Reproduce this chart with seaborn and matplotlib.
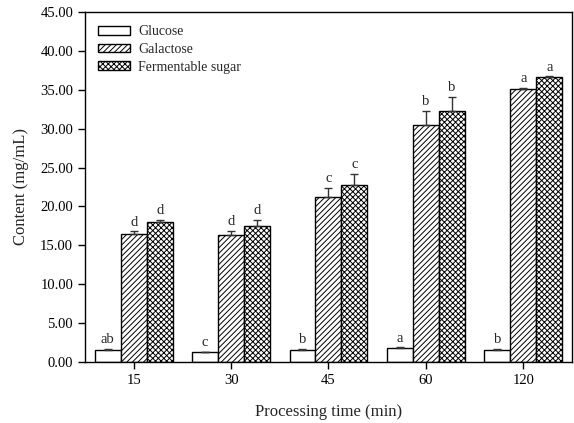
import numpy as np
import pandas as pd
import matplotlib
matplotlib.use("Agg")
import matplotlib.pyplot as plt
import seaborn as sns
from matplotlib.patches import Patch

times = ["15", "30", "45", "60", "120"]
series = ["Glucose", "Galactose", "Fermentable sugar"]
glucose = [1.60, 1.30, 1.55, 1.85, 1.60]
galactose = [16.4, 16.3, 21.2, 30.5, 35.1]
fermentable = [18.0, 17.5, 22.8, 32.3, 36.6]
glucose_err = [0.10, 0.06, 0.15, 0.05, 0.06]
galactose_err = [0.40, 0.60, 1.20, 1.80, 0.15]
fermentable_err = [0.25, 0.80, 1.40, 1.80, 0.10]
glucose_letters = ["ab", "c", "b", "a", "b"]
galactose_letters = ["d", "d", "c", "b", "a"]
fermentable_letters = ["d", "d", "c", "b", "a"]
yticks = [0, 5, 10, 15, 20, 25, 30, 35, 40, 45]

values = [glucose, galactose, fermentable]
errs = [glucose_err, galactose_err, fermentable_err]
letters = [glucose_letters, galactose_letters, fermentable_letters]
hatches = ["", "//////", "xxxxxx"]

rows = []
for s, vals in zip(series, values):
    for t, v in zip(times, vals):
        rows.append({"time": t, "series": s, "value": v})
df = pd.DataFrame(rows)

sns.set_style("ticks")
plt.rcParams["font.family"] = ["Liberation Serif", "DejaVu Serif"]
plt.rcParams["hatch.linewidth"] = 0.7

fig = plt.figure(figsize=(5.74, 4.23), dpi=100)
ax = fig.add_axes([0.148, 0.144, 0.8485, 0.828])

sns.barplot(data=df, x="time", y="value", hue="series", order=times,
            hue_order=series, palette=["white"] * 3, edgecolor="black",
            linewidth=1.0, width=0.8, errorbar=None, legend=False, ax=ax)

for cont, h, vals, er, lets in zip(ax.containers, hatches, values, errs, letters):
    xs = []
    for bar in cont:
        bar.set_hatch(h)
        bar.set_facecolor("white")
        bar.set_edgecolor("black")
        xs.append(bar.get_x() + bar.get_width() / 2)
    ax.errorbar(xs, vals, yerr=[np.zeros(len(vals)), er], fmt="none",
                ecolor="#333333", elinewidth=1.0, capsize=3, capthick=1.0, zorder=3)
    for x, v, e, l in zip(xs, vals, er, lets):
        ax.text(x, v + e + 0.35, l, ha="center", va="bottom", fontsize=10.5)

ax.set_ylim(0, 45)
ax.set_xlim(-0.5, 4.5)
ax.set_yticks(yticks)
ax.set_yticklabels([f"{t:.2f}" for t in yticks])
ax.tick_params(axis="both", direction="out", length=5, width=1, labelsize=10.5, colors="black")
ax.set_xlabel("Processing time (min)", fontsize=12, labelpad=12)
ax.set_ylabel("Content (mg/mL)", fontsize=12, labelpad=8)
for sp in ax.spines.values():
    sp.set_visible(True)
    sp.set_color("black")
    sp.set_linewidth(1.0)

handles = [Patch(facecolor="white", edgecolor="black", hatch=h, linewidth=1.0) for h in hatches]
ax.legend(handles, series, loc="upper left", frameon=False, fontsize=10,
          handlelength=2.3, handleheight=0.6, handletextpad=0.6, labelspacing=0.35,
          bbox_to_anchor=(0.0, 1.0), borderaxespad=0.55)

fig.savefig("out.png", dpi=100)
